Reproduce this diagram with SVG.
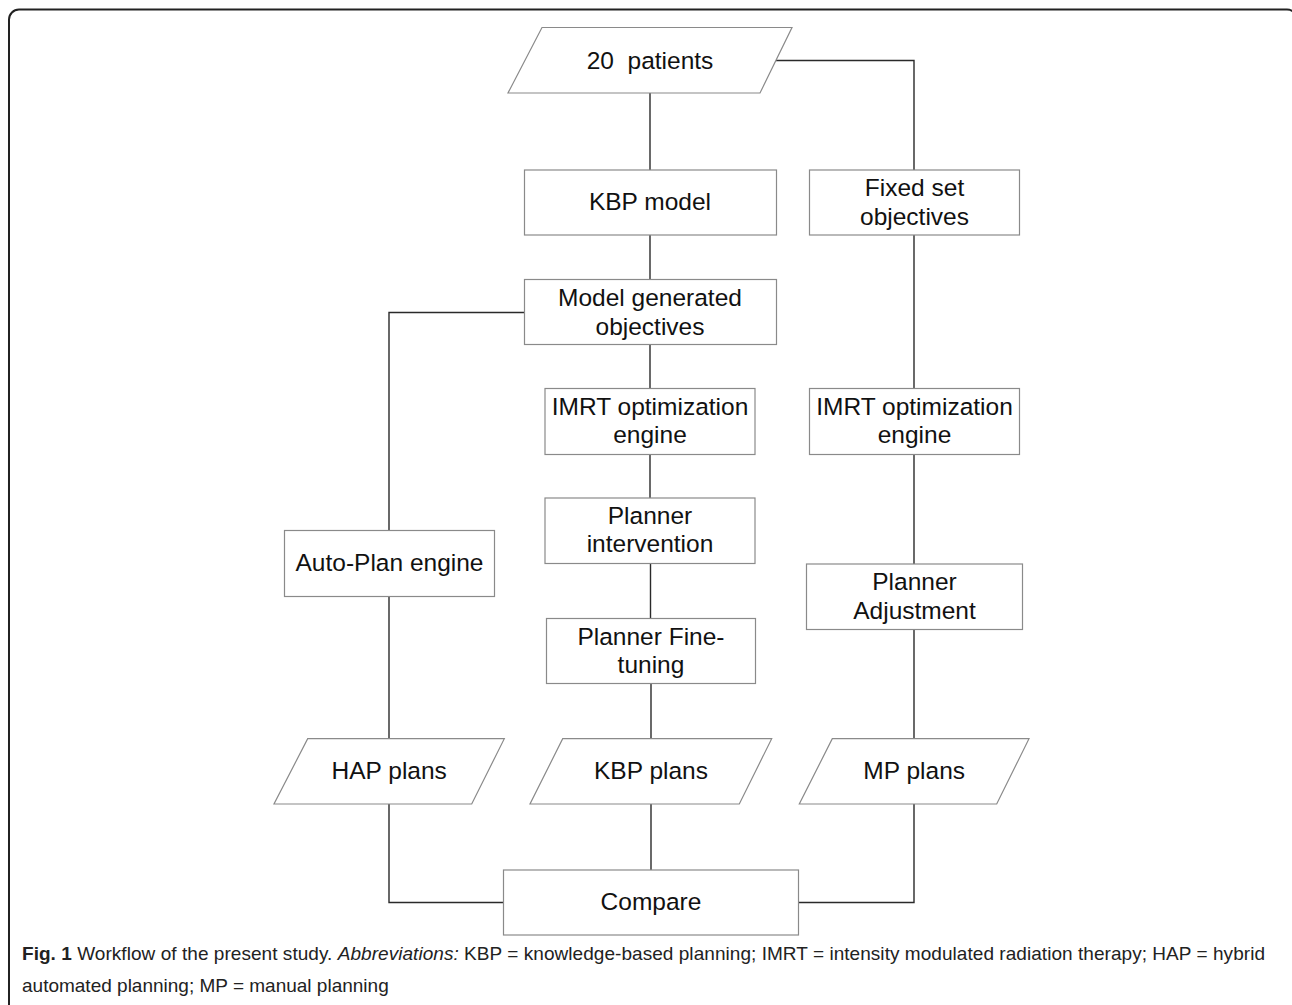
<svg xmlns="http://www.w3.org/2000/svg" width="1292" height="1005" viewBox="0 0 1292 1005">
<style>
.frame{fill:none;stroke:#222;stroke-width:2}
.box{fill:#fff;stroke:#8a8a8a;stroke-width:1.2}
.conn{fill:none;stroke:#2a2a2a;stroke-width:1.4}
.lbl{font-family:"Liberation Sans",Arial,sans-serif;font-size:24.5px;fill:#111;text-anchor:middle;white-space:pre}
.cap{font-family:"Liberation Sans",Arial,sans-serif;font-size:19px;fill:#222}
</style>
<rect x="0" y="0" width="1292" height="1005" fill="#fff"/>
<rect class="frame" x="9" y="9.5" width="1288" height="1020" rx="10"/>
<g id="connectors">
<path class="conn" d="M650 93V170"/>
<path class="conn" d="M776 60.5H914V170"/>
<path class="conn" d="M650 235V279.5"/>
<path class="conn" d="M914 235V388.5"/>
<path class="conn" d="M650 345V388.5"/>
<path class="conn" d="M524.5 312.5H389V530.5"/>
<path class="conn" d="M650 454.5V498"/>
<path class="conn" d="M650.5 563.5V618.5"/>
<path class="conn" d="M651 683.5V738.7"/>
<path class="conn" d="M914 454.5V564"/>
<path class="conn" d="M914 629.5V738.7"/>
<path class="conn" d="M389 596.5V738.7"/>
<path class="conn" d="M389 804V902.5H503.5"/>
<path class="conn" d="M651 804V870"/>
<path class="conn" d="M914 804V902.5H798.5"/>
</g>
<g id="patients">
<polygon class="box" points="542,27.5 792,27.5 760,93 508,93"/>
<text class="lbl" x="650" y="69">20  patients</text>
</g>
<g id="kbp-model">
<rect class="box" x="524.5" y="170" width="252" height="65"/>
<text class="lbl" x="650" y="210">KBP model</text>
</g>
<g id="fixed-set">
<rect class="box" x="809.5" y="170" width="210" height="65"/>
<text class="lbl" x="914.5" y="195.5">Fixed set</text>
<text class="lbl" x="914.5" y="224.5">objectives</text>
</g>
<g id="model-generated">
<rect class="box" x="524.5" y="279.5" width="252" height="65"/>
<text class="lbl" x="650" y="305.5">Model generated</text>
<text class="lbl" x="650" y="334.5">objectives</text>
</g>
<g id="imrt-kbp">
<rect class="box" x="545" y="388.5" width="210" height="66"/>
<text class="lbl" x="650" y="414.5">IMRT optimization</text>
<text class="lbl" x="650" y="443">engine</text>
</g>
<g id="imrt-mp">
<rect class="box" x="809.5" y="388.5" width="210" height="66"/>
<text class="lbl" x="914.5" y="414.5">IMRT optimization</text>
<text class="lbl" x="914.5" y="443">engine</text>
</g>
<g id="planner-intervention">
<rect class="box" x="545" y="498" width="210" height="65.5"/>
<text class="lbl" x="650" y="523.5">Planner</text>
<text class="lbl" x="650" y="552">intervention</text>
</g>
<g id="auto-plan">
<rect class="box" x="284.5" y="530.5" width="210" height="66"/>
<text class="lbl" x="389.5" y="571">Auto-Plan engine</text>
</g>
<g id="planner-adjustment">
<rect class="box" x="806.5" y="564" width="216" height="65.5"/>
<text class="lbl" x="914.5" y="590">Planner</text>
<text class="lbl" x="914.5" y="618.5">Adjustment</text>
</g>
<g id="planner-finetuning">
<rect class="box" x="546.5" y="618.5" width="209" height="65"/>
<text class="lbl" x="651" y="644.5">Planner Fine-</text>
<text class="lbl" x="651" y="673">tuning</text>
</g>
<g id="hap-plans">
<polygon class="box" points="307.7,738.7 504.3,738.7 471.7,804 274,804"/>
<text class="lbl" x="389.2" y="779.3">HAP plans</text>
</g>
<g id="kbp-plans">
<polygon class="box" points="562.7,738.7 771.7,738.7 739.3,804 530,804"/>
<text class="lbl" x="651" y="779.3">KBP plans</text>
</g>
<g id="mp-plans">
<polygon class="box" points="832.3,738.7 1029,738.7 996.7,804 799.3,804"/>
<text class="lbl" x="914.2" y="779.3">MP plans</text>
</g>
<g id="compare">
<rect class="box" x="503.5" y="870" width="295" height="65"/>
<text class="lbl" x="651" y="910">Compare</text>
</g>
<g id="caption">
<text class="cap" x="22" y="960" textLength="1243" lengthAdjust="spacing"><tspan font-weight="bold">Fig. 1</tspan> Workflow of the present study. <tspan font-style="italic">Abbreviations:</tspan> KBP = knowledge-based planning; IMRT = intensity modulated radiation therapy; HAP = hybrid</text>
<text class="cap" x="22" y="992">automated planning; MP = manual planning</text>
</g>
</svg>
